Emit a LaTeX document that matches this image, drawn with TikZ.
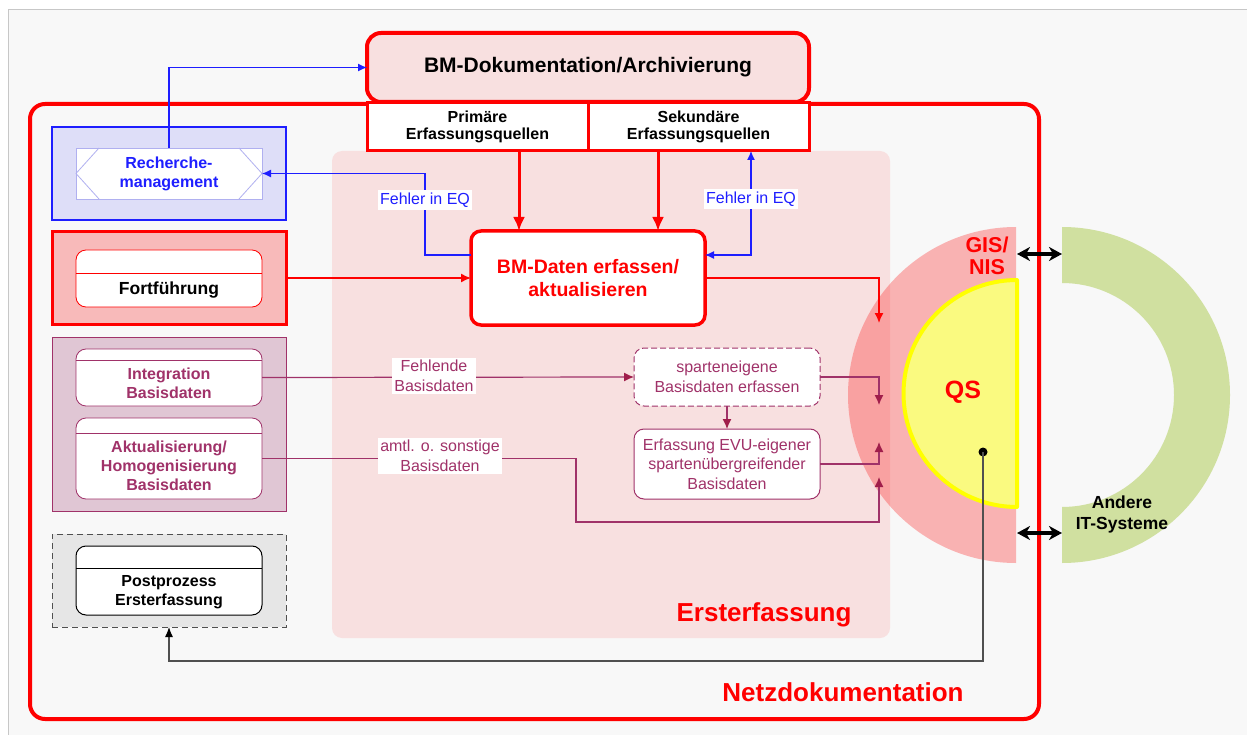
\documentclass[tikz,border=0pt]{standalone}
\usepackage{fontspec}
\setmainfont{Liberation Sans}
\usetikzlibrary{arrows.meta,calc}
\definecolor{myred}{RGB}{255,0,0}
\definecolor{pinkA}{RGB}{248,224,224}
\definecolor{pinkB}{RGB}{248,186,186}
\definecolor{lav}{RGB}{222,222,248}
\definecolor{blu}{RGB}{30,30,255}
\definecolor{lblu}{RGB}{176,176,240}
\definecolor{mauve}{RGB}{224,198,212}
\definecolor{mag}{RGB}{160,50,105}
\definecolor{magD}{RGB}{160,30,75}
\definecolor{grayF}{RGB}{230,230,230}
\definecolor{bgc}{RGB}{248,248,248}
\definecolor{yel}{RGB}{250,250,128}
\definecolor{yelB}{RGB}{255,255,0}
\definecolor{grn}{RGB}{208,224,160}
\definecolor{dgray}{RGB}{80,80,80}
\begin{document}
\begin{tikzpicture}[x=1pt,y=-1pt,
  every node/.style={inner sep=0pt, outer sep=0pt},
  bfA/.style={font=\fontsize{16}{19}\selectfont\bfseries, align=center},
  bfP/.style={font=\fontsize{16}{17.5}\selectfont\bfseries, align=center},
  rgA/.style={font=\fontsize{16}{19.5}\selectfont, align=center},
  outerbox/.style={minimum width=234pt},
  innerbox/.style={minimum width=186pt, fill=white},
  lbl/.style={fill=white, inner sep=2.5pt, rgA},
  blueline/.style={draw=blu, line width=1.2pt, -{Latex[length=9pt,width=8pt]}},
  redthick/.style={draw=myred, line width=3pt, -{Latex[length=14pt,width=12pt]}},
  redthin/.style={draw=myred, line width=1.5pt, -{Latex[length=10pt,width=9pt]}},
  magline/.style={draw=mag, line width=1.2pt, -{Latex[length=10pt,width=9pt,color=magD]}},
  grayline/.style={draw=dgray, line width=1.2pt, -{Latex[length=10pt,width=8pt,color=black]}},
  dblarrow/.style={draw=black, line width=3.5pt, {Stealth[length=13pt,width=14pt,inset=4pt]}-{Stealth[length=13pt,width=14pt,inset=4pt]}}
]
\useasboundingbox (0,0) rectangle (1247,735);
\fill[white] (0,0) rectangle (1247,735);
\fill[bgc] (8,10) rectangle (1247,735);
\draw[black!22, line width=1pt] (8,735) -- (8,10) -- (1247,10);

% Netzdokumentation frame
\draw[myred, line width=4pt, rounded corners=15pt] (30,104) rectangle (1039,719);
\node[font=\fontsize{26}{30}\selectfont\bfseries, text=myred] (netzT) at (843,692) {Netzdokumentation};

% Ersterfassung region
\fill[pinkA, rounded corners=10pt] (332,151) rectangle (890,638);
\node[font=\fontsize{26}{30}\selectfont\bfseries, text=myred] (erstT) at (764,615) {Ersterfassung};

% GIS/NIS half disc
\fill[myred, opacity=0.28] (1016,227) arc[start angle=90, end angle=270, radius=168pt] -- cycle;
% other IT systems half ring
\fill[grn] (1062,227) arc[start angle=90, end angle=-90, radius=168pt] -- (1062,507) arc[start angle=-90, end angle=90, radius=112pt] -- cycle;
% QS half disc
\draw[yelB, fill=yel, line width=4pt, line join=round] (1017,280) arc[start angle=90, end angle=270, radius=113.5pt] -- cycle;

\node[font=\fontsize{21.5}{22}\selectfont\bfseries, text=myred, align=center] (gis) at (987,256) {GIS/\\NIS};
\node[font=\fontsize{25}{30}\selectfont\bfseries, text=myred] (qs) at (963,392) {QS};
\node[font=\fontsize{17.5}{21}\selectfont\bfseries, align=center] (andere) at (1122,514) {Andere\\IT-Systeme};
\node[circle, fill=black, minimum size=9pt] (qsdot) at (983,452) {};

% top boxes
\node[draw=myred, line width=4pt, fill=pinkA, rounded corners=14pt, minimum width=442pt, minimum height=69pt, font=\fontsize{21}{24}\selectfont\bfseries] (bmdok) at (588,67.5) {BM-Dokumentation/Archivierung};
\node[draw=myred, line width=3pt, fill=white, minimum width=221pt, minimum height=48pt, bfP] (prim) at (477.5,127) {Primäre\\Erfassungsquellen};
\node[draw=myred, line width=3pt, fill=white, minimum width=221pt, minimum height=48pt, bfP] (sek) at (698.5,127) {Sekundäre\\Erfassungsquellen};

% central box
\node[draw=myred, line width=3.5pt, fill=white, rounded corners=10pt, minimum width=234pt, minimum height=94pt, font=\fontsize{19.5}{23}\selectfont\bfseries, text=myred, align=center] (bmdat) at (588,278) {BM-Daten erfassen/\\aktualisieren};

% Recherche
\node[outerbox, draw=blu, line width=1.2pt, fill=lav, minimum height=93pt] (rechO) at (169,173.5) {};
\node[innerbox, draw=lblu, line width=0.8pt, minimum height=51pt, bfA, text=blu] (rech) at (169,173.5) {Recherche-\\management};
\draw[lblu, line width=0.8pt] (rech.west) -- ([xshift=23pt]rech.north west)
  (rech.west) -- ([xshift=23pt]rech.south west)
  (rech.east) -- ([xshift=-23pt]rech.north east)
  (rech.east) -- ([xshift=-23pt]rech.south east);

% Fortfuehrung
\node[outerbox, draw=myred, line width=3pt, fill=pinkB, minimum height=92pt] (fortO) at (169,278) {};
\node[innerbox, draw=myred, line width=0.8pt, rounded corners=10pt, minimum height=57pt] (fort) at (169,278.5) {};
\draw[myred, line width=0.8pt] (76,273) -- (262,273);
\node[font=\fontsize{17.5}{20}\selectfont\bfseries] (fortT) at (169,290) {Fortführung};

% Basisdaten group
\node[outerbox, draw=mag, line width=1pt, fill=mauve, minimum height=174pt] (basO) at (169,424) {};
\node[innerbox, draw=mag, line width=0.8pt, rounded corners=10pt, minimum height=57pt] (integ) at (169,377.5) {};
\draw[mag, line width=0.8pt] (76,360) -- (262,360);
\node[bfA, text=mag] (integT) at (169,383) {Integration\\Basisdaten};
\node[innerbox, draw=mag, line width=0.8pt, rounded corners=10pt, minimum height=81pt] (aktual) at (169,458.5) {};
\draw[mag, line width=0.8pt] (76,433) -- (262,433);
\node[bfA, text=mag] (aktualT) at (169,466) {Aktualisierung/\\Homogenisierung\\Basisdaten};

% Postprozess
\node[outerbox, draw=dgray, line width=1pt, dash pattern=on 6pt off 4pt, fill=grayF, minimum height=93pt] (postO) at (169,580.5) {};
\node[innerbox, draw=black, line width=1pt, rounded corners=10pt, minimum height=69pt] (post) at (169,580.5) {};
\draw[black, line width=1pt] (76,568) -- (262,568);
\node[bfA] (postT) at (169,592) {Postprozess\\Ersterfassung};

% Basisdaten capture boxes
\node[innerbox, draw=mag, line width=1pt, dash pattern=on 6pt off 3pt, rounded corners=10pt, minimum height=58pt, rgA, text=mag] (sparten) at (727,377) {sparteneigene\\Basisdaten erfassen};
\node[innerbox, draw=mag, line width=1pt, rounded corners=10pt, minimum height=70pt, rgA, text=mag] (evu) at (727,464) {Erfassung EVU-eigener\\spartenübergreifender\\Basisdaten};

% coordinates
\coordinate (g1) at (879,323);
\coordinate (g2) at (879,405);
\coordinate (g3) at (879,442);
\coordinate (g4) at (879,477);
\coordinate (bend) at (576,522);
\coordinate (ppc) at (983,661);
\coordinate (gA) at (1017,254);
\coordinate (oA) at (1062,254);
\coordinate (gB) at (1017,533);
\coordinate (oB) at (1062,533);

% connectors
\draw[blueline] (rech.north) |- (bmdok.west);
\draw[blueline] ([yshift=23pt]bmdat.west) -- ++(-46,0) |- (rech.east);
\draw[blueline, {Latex[length=9pt,width=8pt]}-{Latex[length=9pt,width=8pt]}] ([xshift=52.5pt]sek.south) |- ([yshift=23pt]bmdat.east);
\draw[redthick] ([xshift=41.5pt]prim.south) -- ([xshift=41.5pt]prim.south |- bmdat.north);
\draw[redthick] ([xshift=-40.5pt]sek.south) -- ([xshift=-40.5pt]sek.south |- bmdat.north);
\draw[redthin] (fortO.east) -- (bmdat.west);
\draw[redthin] (bmdat.east) -| (g1);
\draw[magline] (integ.east) -- (sparten.west);
\draw[magline] (aktual.east) -| (bend) -| (g4);
\draw[magline] (sparten.south) -- (evu.north);
\draw[magline] (sparten.east) -| (g2);
\draw[magline] (evu.east) -| (g3);
\draw[grayline] (qsdot.center) -- (ppc) -| (postO.south);
\draw[dblarrow] (gA) -- (oA);
\draw[dblarrow] (gB) -- (oB);

% connector labels
\node[lbl, text=blu] (f1) at (425,200) {Fehler in EQ};
\node[lbl, text=blu] (f2) at (751,199) {Fehler in EQ};
\node[lbl, text=mag] (fb1) at (434,376) {Fehlende\\Basisdaten};
\node[lbl, text=mag] (fb2) at (440,456) {amtl. o. sonstige\\Basisdaten};
\end{tikzpicture}
\end{document}
